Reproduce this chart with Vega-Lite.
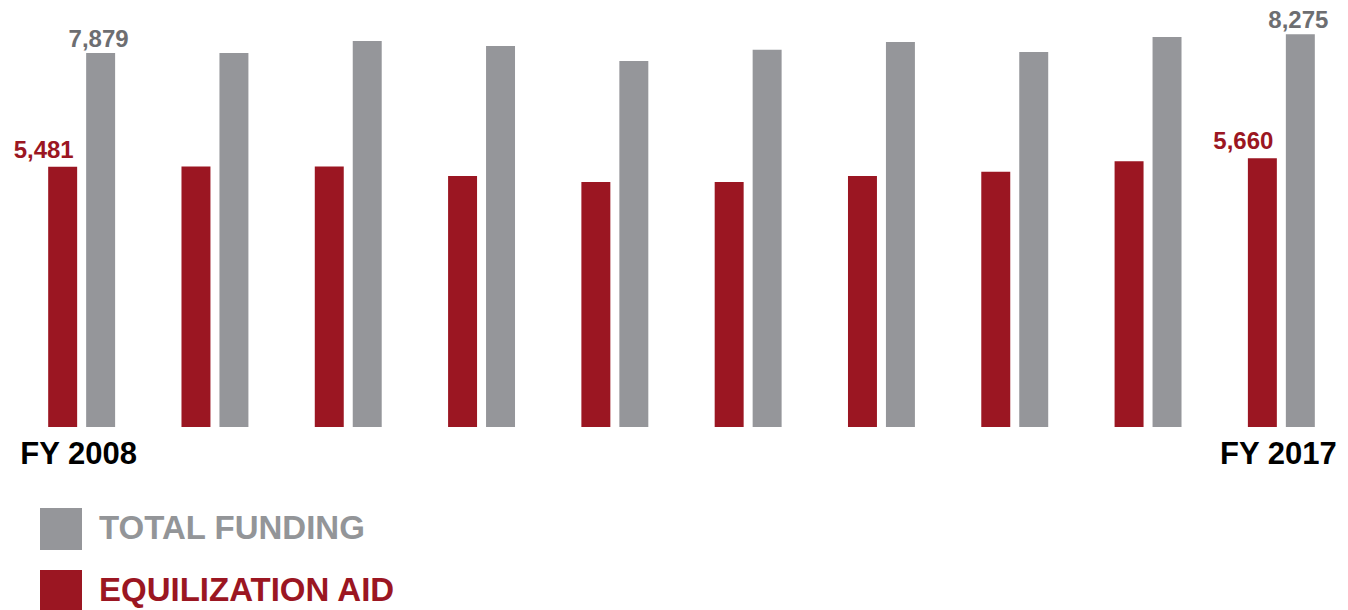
{
  "$schema": "https://vega.github.io/schema/vega-lite/v6.json",
  "autosize": "none",
  "padding": {"left": 15, "top": 0, "right": 0, "bottom": 183},
  "width": 1333,
  "height": 427,
  "background": "white",
  "config": {"view": {"stroke": null}, "font": "Liberation Sans"},
  "data": {
    "values": [
      {"year": 2008, "series": "EQUILIZATION AID", "value": 5481},
      {"year": 2009, "series": "EQUILIZATION AID", "value": 5485},
      {"year": 2010, "series": "EQUILIZATION AID", "value": 5485},
      {"year": 2011, "series": "EQUILIZATION AID", "value": 5290},
      {"year": 2012, "series": "EQUILIZATION AID", "value": 5160},
      {"year": 2013, "series": "EQUILIZATION AID", "value": 5160},
      {"year": 2014, "series": "EQUILIZATION AID", "value": 5290},
      {"year": 2015, "series": "EQUILIZATION AID", "value": 5375},
      {"year": 2016, "series": "EQUILIZATION AID", "value": 5600},
      {"year": 2017, "series": "EQUILIZATION AID", "value": 5660},
      {"year": 2008, "series": "TOTAL FUNDING", "value": 7879},
      {"year": 2009, "series": "TOTAL FUNDING", "value": 7880},
      {"year": 2010, "series": "TOTAL FUNDING", "value": 8130},
      {"year": 2011, "series": "TOTAL FUNDING", "value": 8025},
      {"year": 2012, "series": "TOTAL FUNDING", "value": 7710},
      {"year": 2013, "series": "TOTAL FUNDING", "value": 7945},
      {"year": 2014, "series": "TOTAL FUNDING", "value": 8110},
      {"year": 2015, "series": "TOTAL FUNDING", "value": 7900},
      {"year": 2016, "series": "TOTAL FUNDING", "value": 8215},
      {"year": 2017, "series": "TOTAL FUNDING", "value": 8275}
    ]
  },
  "encoding": {
    "x": {
      "field": "year",
      "type": "ordinal",
      "scale": {"paddingInner": 0, "paddingOuter": 0},
      "axis": {
        "title": null,
        "domain": false,
        "ticks": false,
        "labelAngle": 0,
        "labelPadding": 12,
        "labelOffset": -3,
        "labelFont": "Liberation Sans",
        "labelFontSize": 31,
        "labelFontWeight": "bold",
        "labelColor": "#000000",
        "labelExpr": "(datum.value == 2008 || datum.value == 2017) ? 'FY ' + datum.value : ''"
      }
    },
    "xOffset": {
      "field": "series",
      "type": "nominal",
      "scale": {"domain": ["EQUILIZATION AID", "TOTAL FUNDING"], "paddingInner": 0.237, "paddingOuter": 0.874}
    },
    "y": {
      "field": "value",
      "type": "quantitative",
      "scale": {"domain": [0, 8995], "nice": false, "zero": true},
      "axis": null
    }
  },
  "layer": [
    {
      "mark": {"type": "bar"},
      "encoding": {
        "color": {
          "field": "series",
          "type": "nominal",
          "scale": {"domain": ["TOTAL FUNDING", "EQUILIZATION AID"], "range": ["#95969a", "#9b1622"]},
          "legend": {
            "title": null,
            "orient": "none",
            "legendX": 25,
            "legendY": 508,
            "symbolType": "square",
            "symbolSize": 1764,
            "symbolStrokeWidth": 0,
            "symbolOpacity": 1,
            "labelFont": "Liberation Sans",
            "labelFontSize": 33,
            "labelFontWeight": "bold",
            "labelOffset": 17,
            "labelLimit": 500,
            "rowPadding": 20,
            "padding": 0,
            "symbolOffset": 0,
            "encode": {
              "labels": {
                "update": {
                  "fill": {"signal": "datum.value === 'TOTAL FUNDING' ? '#939598' : '#9b1622'"}
                }
              }
            }
          }
        }
      }
    },
    {
      "transform": [
        {"filter": "(datum.year == 2008 || datum.year == 2017) && datum.series == 'EQUILIZATION AID'"}
      ],
      "mark": {"type": "text", "font": "Liberation Sans", "fontSize": 24, "fontWeight": "bold", "color": "#9b1622", "baseline": "alphabetic", "dy": -9, "dx": -19},
      "encoding": {"text": {"field": "value", "type": "quantitative", "format": ","}}
    },
    {
      "transform": [
        {"filter": "(datum.year == 2008 || datum.year == 2017) && datum.series == 'TOTAL FUNDING'"}
      ],
      "mark": {"type": "text", "font": "Liberation Sans", "fontSize": 24, "fontWeight": "bold", "color": "#6d6e71", "baseline": "alphabetic", "dy": -6, "dx": -2},
      "encoding": {"text": {"field": "value", "type": "quantitative", "format": ","}}
    }
  ]
}
